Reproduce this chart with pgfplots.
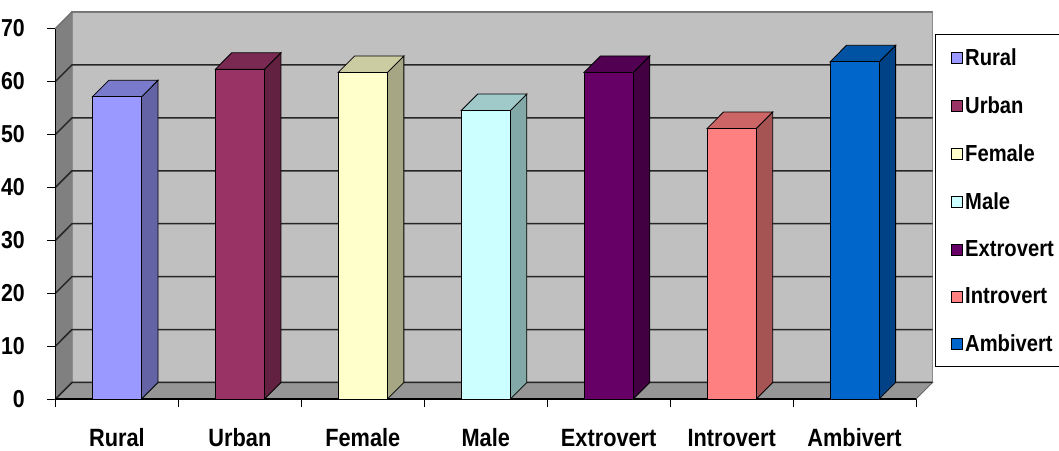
\documentclass[border=0pt]{standalone}
\usepackage{fontspec}
\setmainfont{Liberation Sans}[FakeStretch=0.87]
\usepackage{pgfplots}
\pgfplotsset{compat=1.18}

\definecolor{backwall}{HTML}{C0C0C0}
\definecolor{sidewall}{HTML}{808080}
\definecolor{floorc}{HTML}{969696}

\definecolor{ruralF}{HTML}{9999FF}\definecolor{ruralT}{HTML}{7A7ACC}\definecolor{ruralS}{HTML}{6363A6}
\definecolor{urbanF}{HTML}{993366}\definecolor{urbanT}{HTML}{7A2952}\definecolor{urbanS}{HTML}{632142}
\definecolor{femaleF}{HTML}{FFFFCC}\definecolor{femaleT}{HTML}{CCCCA3}\definecolor{femaleS}{HTML}{A6A685}
\definecolor{maleF}{HTML}{CCFFFF}\definecolor{maleT}{HTML}{A0CACA}\definecolor{maleS}{HTML}{82A8A8}
\definecolor{extroF}{HTML}{660066}\definecolor{extroT}{HTML}{520052}\definecolor{extroS}{HTML}{420042}
\definecolor{introF}{HTML}{FF8080}\definecolor{introT}{HTML}{CC6666}\definecolor{introS}{HTML}{A65353}
\definecolor{ambiF}{HTML}{0066CC}\definecolor{ambiT}{HTML}{0052A3}\definecolor{ambiS}{HTML}{004285}

% depth offset of the 3-D look, in axis units
\newcommand{\dx}{0.134}
\newcommand{\dy}{3.12}

% 3-D column: centre, value, front, top, side colour, legend text
\newcommand{\cubebar}[6]{%
  \pgfmathsetmacro\xa{#1-0.2}%
  \pgfmathsetmacro\xb{#1+0.2}%
  \pgfmathsetmacro\xc{#1+0.2+\dx}%
  \pgfmathsetmacro\xd{#1-0.2+\dx}%
  \pgfmathsetmacro\vt{#2+\dy}%
  \addplot[forget plot, fill=#5, draw=black, line width=0.8pt]
    coordinates {(\xb,0) (\xc,\dy) (\xc,\vt) (\xb,#2)} -- cycle;
  \addplot[forget plot, fill=#4, draw=black, line width=0.8pt]
    coordinates {(\xa,#2) (\xb,#2) (\xc,\vt) (\xd,\vt)} -- cycle;
  \addplot[fill=#3, draw=black, line width=0.8pt]
    coordinates {(\xa,0) (\xb,0) (\xb,#2) (\xa,#2)} -- cycle;
  \addlegendentry{#6\hspace*{14pt}}
}

\begin{document}
\begin{tikzpicture}
\useasboundingbox (-55.5pt,-51pt) rectangle (1003.5pt,399pt);
\begin{axis}[
  scale only axis,
  width=877pt, height=387pt,
  xmin=0, xmax=7.134, ymin=0, ymax=73.12,
  clip=false,
  axis line style={draw=none},
  tick pos=left, tick align=outside,
  major tick length=8pt,
  tick style={black, line width=1pt},
  ytick={0,10,...,70},
  xtick={0,...,7},
  x tick label as interval,
  xticklabels={Rural,Urban,Female,Male,Extrovert,Introvert,Ambivert},
  /pgf/number format/assume math mode=true,
  yticklabel style={font=\fontsize{24.5}{24.5}\selectfont\bfseries, anchor=east, inner sep=0pt, xshift=-22.5pt},
  xticklabel style={font=\fontsize{25}{25}\selectfont\bfseries, anchor=base, inner sep=0pt, yshift=-39pt},
  legend image code/.code={\draw[#1, line width=0.7pt] (0pt,-6pt) rectangle (11pt,5pt);},
  legend cell align=left,
  legend style={at={(1.00285,0.94315)}, anchor=north west, draw=black, line width=1pt,
    fill=white, font=\fontsize{23.2}{23.2}\selectfont\bfseries,
    inner xsep=15pt, inner ysep=14pt, row sep=29.6pt, column sep=3pt,
    nodes={inner sep=0pt}},
]
% walls and floor
\addplot[forget plot, fill=backwall, draw=black!45, line width=1.5pt]
  coordinates {(0.134,3.12) (7.134,3.12) (7.134,73.12) (0.134,73.12)} -- cycle;
\addplot[forget plot, fill=sidewall, draw=none]
  coordinates {(0,0) (0.134,3.12) (0.134,73.12) (0,70)} -- cycle;
\addplot[forget plot, fill=floorc, draw=black!60, line width=1pt]
  coordinates {(0,0) (7,0) (7.134,3.12) (0.134,3.12)} -- cycle;
% grid lines over left wall and back wall
\addplot[forget plot, black!85, line width=1.5pt] coordinates {(0,0) (0.134,3.12) (7.134,3.12)};
\addplot[forget plot, black!85, line width=1.5pt] coordinates {(0,10) (0.134,13.12) (7.134,13.12)};
\addplot[forget plot, black!85, line width=1.5pt] coordinates {(0,20) (0.134,23.12) (7.134,23.12)};
\addplot[forget plot, black!85, line width=1.5pt] coordinates {(0,30) (0.134,33.12) (7.134,33.12)};
\addplot[forget plot, black!85, line width=1.5pt] coordinates {(0,40) (0.134,43.12) (7.134,43.12)};
\addplot[forget plot, black!85, line width=1.5pt] coordinates {(0,50) (0.134,53.12) (7.134,53.12)};
\addplot[forget plot, black!85, line width=1.5pt] coordinates {(0,60) (0.134,63.12) (7.134,63.12)};
\addplot[forget plot, black!55, line width=1.5pt] coordinates {(0,70) (0.134,73.12) (7.134,73.12)};
% front axis lines
\addplot[forget plot, black, line width=1.5pt] coordinates {(0,70) (0,0) (7,0)};

\cubebar{0.5}{57.1}{ruralF}{ruralT}{ruralS}{Rural}
\cubebar{1.5}{62.3}{urbanF}{urbanT}{urbanS}{Urban}
\cubebar{2.5}{61.7}{femaleF}{femaleT}{femaleS}{Female}
\cubebar{3.5}{54.5}{maleF}{maleT}{maleS}{Male}
\cubebar{4.5}{61.7}{extroF}{extroT}{extroS}{Extrovert}
\cubebar{5.5}{51.1}{introF}{introT}{introS}{Introvert}
\cubebar{6.5}{63.7}{ambiF}{ambiT}{ambiS}{Ambivert}
\end{axis}
\end{tikzpicture}
\end{document}
